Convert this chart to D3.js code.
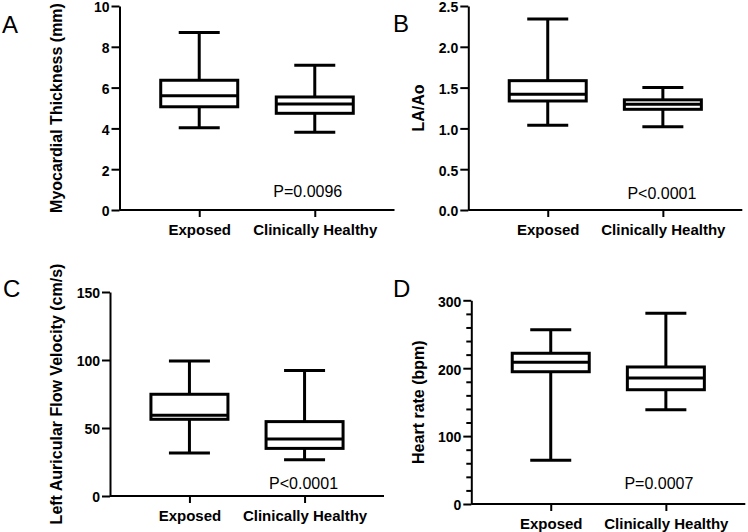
<!DOCTYPE html>
<html>
<head>
<meta charset="utf-8">
<script src="https://cdn.jsdelivr.net/npm/d3@7"></script>
<style>
  html, body { margin: 0; padding: 0; background: #fff; }
  svg { display: block; }
  text { font-family: "Liberation Sans", Arial, Helvetica, sans-serif; fill: #000; }
</style>
</head>
<body>
<svg id="chart" width="748" height="532"></svg>
<script>
// ---------------- data ----------------
const categories = ["Exposed", "Clinically Healthy"];
const panelLetters = ["A", "B", "C", "D"];
const yTitles = [
  "Myocardial Thickness (mm)",
  "LA/Ao",
  "Left Auricular Flow Velocity (cm/s)",
  "Heart rate (bpm)"
];
const pLabels = ["P=0.0096", "P<0.0001", "P<0.0001", "P=0.0007"];

// [min, Q1, median, Q3, max] for Exposed, Clinically Healthy
const thicknessStats = [[4.03, 5.06, 5.6, 6.36, 8.7], [3.81, 4.74, 5.2, 5.54, 7.1]];
const laAoStats = [[1.04, 1.336, 1.42, 1.585, 2.34], [1.02, 1.234, 1.295, 1.35, 1.5]];
const flowStats = [[31.6, 56.4, 59.3, 74.8, 99.3], [26.7, 35.0, 41.9, 54.7, 92.2]];
const heartRateStats = [[64.3, 194.8, 208.7, 222.0, 256.7], [138.9, 168.3, 185.6, 201.8, 280.8]];

const thicknessTicks = [0, 2, 4, 6, 8, 10];
const laAoTicks = [0, 0.5, 1.0, 1.5, 2.0, 2.5];
const flowTicks = [0, 50, 100, 150];
const heartRateTicks = [0, 100, 200, 300];
const heartRateMinorTicks = [20, 40, 60, 80, 120, 140, 160, 180, 220, 240, 260, 280];

const yDomains = [[0, 10], [0, 2.5], [0, 150], [0, 300]];
const tickFormats = ["d", ".1f", "d", "d"];

// ---------------- layout ----------------
const layout = [
  { ax: 119.5, top: 6,     bottom: 210, len: 275, titleX: 62,  letterX: 2,   letterY: 33,  pdx: -7, pdy: -13 },
  { ax: 468.3, top: 6,     bottom: 210, len: 274, titleX: 424, letterX: 393, letterY: 32,  pdx: -1, pdy: -11 },
  { ax: 110,   top: 292,   bottom: 496, len: 274, titleX: 62,  letterX: 3,   letterY: 297, pdx: -1, pdy: -7 },
  { ax: 471.3, top: 300.3, bottom: 504, len: 274, titleX: 424, letterX: 393, letterY: 297, pdx: -7, pdy: -15 }
];

const statsList = [thicknessStats, laAoStats, flowStats, heartRateStats];
const tickList = [thicknessTicks, laAoTicks, flowTicks, heartRateTicks];
const minorList = [null, null, null, heartRateMinorTicks];

const svg = d3.select("#chart");

panelLetters.forEach((letter, i) => {
  const L = layout[i];
  const g = svg.append("g");

  const y = d3.scaleLinear().domain(yDomains[i]).range([L.bottom, L.top]);
  const x = d3.scalePoint().domain(categories).range([L.ax, L.ax + L.len]).padding(0.69).align(0.5);

  // minor ticks
  if (minorList[i]) {
    const minor = g.append("g").attr("transform", `translate(${L.ax},0)`)
      .call(d3.axisLeft(y).tickValues(minorList[i]).tickSize(5).tickFormat(""));
    minor.select(".domain").remove();
    minor.selectAll("line").attr("stroke", "#000").attr("stroke-width", 2);
  }

  // y axis
  const ya = g.append("g").attr("transform", `translate(${L.ax},0)`)
    .call(d3.axisLeft(y).tickValues(tickList[i]).tickSize(8).tickSizeOuter(0).tickPadding(2)
      .tickFormat(d3.format(tickFormats[i])));
  ya.select(".domain").attr("stroke", "#000").attr("stroke-width", 2);
  ya.selectAll(".tick line").attr("stroke", "#000").attr("stroke-width", 2);
  ya.selectAll(".tick text").attr("font-size", 14).attr("font-weight", "bold").attr("dy", "0.42em")
    .attr("font-family", '"Liberation Sans", Arial, sans-serif').attr("fill", "#000");

  // x axis
  const xa = g.append("g").attr("transform", `translate(0,${L.bottom})`)
    .call(d3.axisBottom(x).tickSize(7).tickSizeOuter(0).tickPadding(7));
  xa.select(".domain").attr("stroke", "#000").attr("stroke-width", 2)
    .attr("d", `M${L.ax},0H${L.ax + L.len}`);
  xa.selectAll(".tick line").attr("stroke", "#000").attr("stroke-width", 2);
  xa.selectAll(".tick text").attr("font-size", 15).attr("font-weight", "bold")
    .attr("font-family", '"Liberation Sans", Arial, sans-serif').attr("fill", "#000");

  // boxes
  const boxW = 77, capW = 41;
  const boxes = g.selectAll(".box").data(statsList[i].map((s, k) => ({ cat: categories[k], s })))
    .enter().append("g").attr("class", "box");

  boxes.append("line") // lower whisker
    .attr("x1", d => x(d.cat)).attr("x2", d => x(d.cat))
    .attr("y1", d => y(d.s[0])).attr("y2", d => y(d.s[1]))
    .attr("stroke", "#000").attr("stroke-width", 3);
  boxes.append("line") // upper whisker
    .attr("x1", d => x(d.cat)).attr("x2", d => x(d.cat))
    .attr("y1", d => y(d.s[3])).attr("y2", d => y(d.s[4]))
    .attr("stroke", "#000").attr("stroke-width", 3);
  boxes.append("line") // min cap
    .attr("x1", d => x(d.cat) - capW / 2).attr("x2", d => x(d.cat) + capW / 2)
    .attr("y1", d => y(d.s[0])).attr("y2", d => y(d.s[0]))
    .attr("stroke", "#000").attr("stroke-width", 3);
  boxes.append("line") // max cap
    .attr("x1", d => x(d.cat) - capW / 2).attr("x2", d => x(d.cat) + capW / 2)
    .attr("y1", d => y(d.s[4])).attr("y2", d => y(d.s[4]))
    .attr("stroke", "#000").attr("stroke-width", 3);
  boxes.append("rect")
    .attr("x", d => x(d.cat) - boxW / 2).attr("width", boxW)
    .attr("y", d => y(d.s[3])).attr("height", d => y(d.s[1]) - y(d.s[3]))
    .attr("fill", "#fff").attr("stroke", "#000").attr("stroke-width", 3);
  boxes.append("line") // median
    .attr("x1", d => x(d.cat) - boxW / 2).attr("x2", d => x(d.cat) + boxW / 2)
    .attr("y1", d => y(d.s[2])).attr("y2", d => y(d.s[2]))
    .attr("stroke", "#000").attr("stroke-width", 3);

  // y title
  g.append("text")
    .attr("transform", `translate(${L.titleX},${(L.top + L.bottom) / 2}) rotate(-90)`)
    .attr("text-anchor", "middle").attr("font-size", 16).attr("font-weight", "bold")
    .text(yTitles[i]);

  // panel letter
  g.append("text").attr("x", L.letterX).attr("y", L.letterY)
    .attr("font-size", 24).text(letter);

  // p value
  g.append("text").attr("x", x(categories[1]) + L.pdx).attr("y", L.bottom + L.pdy)
    .attr("text-anchor", "middle").attr("font-size", 16).text(pLabels[i]);
});
</script>
</body>
</html>
